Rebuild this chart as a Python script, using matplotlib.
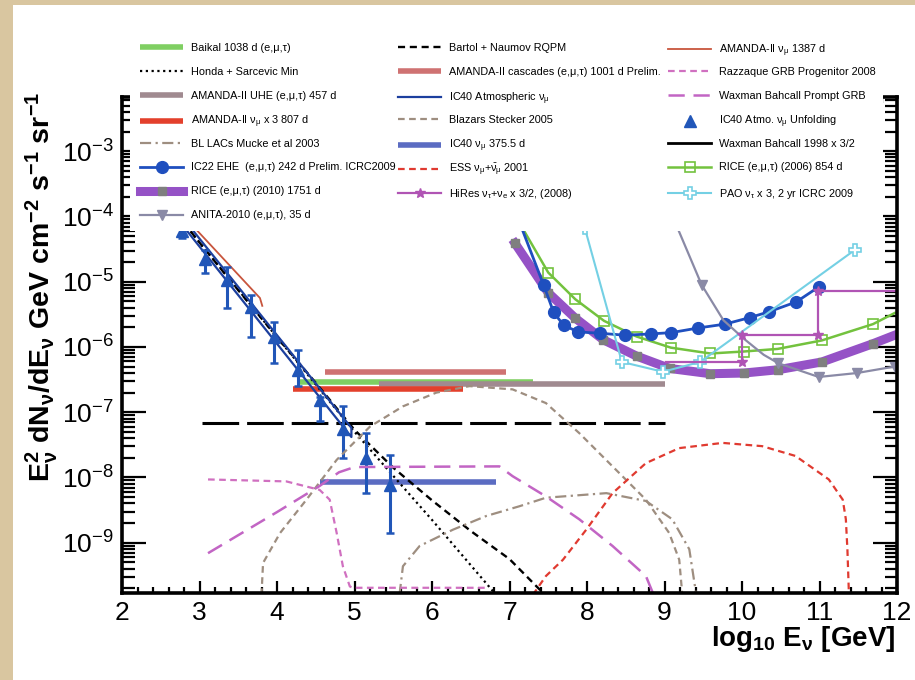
import numpy as np
import matplotlib
matplotlib.use("Agg")
import matplotlib.pyplot as plt
from matplotlib.lines import Line2D
from matplotlib.patches import Rectangle
from matplotlib.ticker import MultipleLocator, LogLocator, NullFormatter, FixedLocator

plt.rcParams['font.family'] = ['Liberation Sans', 'DejaVu Sans']
plt.rcParams['mathtext.fontset'] = 'custom'
plt.rcParams['mathtext.rm'] = 'Liberation Sans'
plt.rcParams['mathtext.it'] = 'Liberation Sans:italic'
plt.rcParams['mathtext.bf'] = 'Liberation Sans:bold'
plt.rcParams['mathtext.default'] = 'regular'

# ---------------- data (x = log10 E [GeV], y = log10 flux) ----------------
baikal_x = [4.30, 7.30]; baikal_y = [-6.54, -6.54]
amanda_casc_x = [4.62, 6.96]; amanda_casc_y = [-6.39, -6.39]
amanda_uhe_x = [5.31, 9.01]; amanda_uhe_y = [-6.57, -6.57]
amanda_x3_x = [4.21, 6.40]; amanda_x3_y = [-6.65, -6.65]
wb98_x = [3.03, 9.01]; wb98_y = [-7.16, -7.16]
ic40_numu_x = [4.55, 6.83]; ic40_numu_y = [-8.07, -8.07]

honda_x = [2.70, 3.00, 4.00, 5.00, 6.00, 6.90]
honda_y = [-3.95, -4.40, -5.85, -7.30, -8.65, -9.90]
bartol_x = [2.70, 3.00, 3.50, 4.00, 4.50, 5.00, 5.50, 6.00, 6.50, 7.00, 7.50]
bartol_y = [-3.95, -4.40, -5.13, -5.85, -6.55, -7.27, -7.85, -8.35, -8.82, -9.25, -9.85]

ic40atm_x = [2.77, 4.96, 4.96, 2.69]
ic40atm_y = [-4.00, -7.24, -7.38, -4.00]

amanda1387_x = [2.80, 3.78, 3.81]
amanda1387_y = [-4.00, -5.25, -5.37]

unf_x = [2.77, 3.07, 3.36, 3.67, 3.96, 4.27, 4.55, 4.85, 5.15, 5.46]
unf_y = [-4.23, -4.65, -4.98, -5.39, -5.84, -6.36, -6.81, -7.26, -7.70, -8.11]
unf_lo = [-4.33, -4.87, -5.40, -5.84, -6.25, -6.60, -7.14, -7.70, -8.24, -8.85]
unf_hi = [-4.18, -4.51, -4.77, -5.20, -5.61, -6.04, -6.76, -6.91, -7.32, -7.65]

bllac_x = [5.58, 5.625, 5.84, 6.27, 6.70, 7.13, 7.47, 8.25, 8.76, 9.10, 9.32, 9.41]
bllac_y = [-9.80, -9.36, -9.05, -8.80, -8.59, -8.44, -8.31, -8.24, -8.36, -8.64, -9.10, -9.80]

stecker_x = [3.80, 3.82, 4.04, 4.38, 4.77, 5.20, 5.625, 6.055, 6.485, 7.04, 7.47, 7.90, 8.33, 8.76, 9.06, 9.19, 9.23]
stecker_y = [-9.80, -9.31, -8.85, -8.34, -7.73, -7.22, -6.91, -6.70, -6.60, -6.65, -6.86, -7.32, -7.83, -8.34, -8.85, -9.26, -9.80]

ess_x = [7.30, 7.47, 7.69, 7.99, 8.33, 8.76, 9.19, 9.75, 10.26, 10.69, 11.12, 11.30, 11.34, 11.36, 11.38]
ess_y = [-9.80, -9.51, -9.26, -8.80, -8.24, -7.78, -7.55, -7.47, -7.52, -7.67, -8.03, -8.34, -8.64, -9.10, -9.80]

razz_x = [3.11, 4.12, 4.55, 4.68, 4.77, 4.85, 4.94, 4.98, 6.70]
razz_y = [-8.03, -8.06, -8.19, -8.34, -8.85, -9.36, -9.67, -9.69, -9.69]

wbgrb_x = [3.11, 4.00, 4.55, 4.80, 5.00, 6.87, 7.04, 7.47, 7.90, 8.33, 8.76, 8.85]
wbgrb_y = [-9.16, -8.53, -8.13, -7.92, -7.84, -7.83, -7.98, -8.29, -8.64, -9.05, -9.51, -9.77]

ic22_x = [7.10, 7.44, 7.57, 7.70, 7.89, 8.17, 8.49, 8.83, 9.09, 9.43, 9.78, 10.10, 10.35, 10.70, 10.99]
ic22_y = [-4.00, -5.05, -5.47, -5.67, -5.77, -5.79, -5.82, -5.80, -5.78, -5.71, -5.65, -5.55, -5.46, -5.31, -5.08]

rice10_x = [7.07, 7.50, 7.85, 8.21, 8.64, 9.07, 9.59, 10.02, 10.46, 11.03, 11.69, 11.97]
rice10_y = [-4.41, -5.17, -5.56, -5.89, -6.14, -6.33, -6.41, -6.40, -6.35, -6.23, -5.95, -5.82]

rice06_x = [7.08, 7.50, 7.85, 8.22, 8.64, 9.08, 9.59, 10.02, 10.46, 11.03, 11.69, 11.97]
rice06_y = [-4.00, -4.86, -5.27, -5.60, -5.84, -6.01, -6.10, -6.07, -6.03, -5.90, -5.65, -5.48]

pao_x = [7.97, 8.45, 8.98, 9.46, 11.46]
pao_y = [-4.17, -6.23, -6.38, -6.23, -4.51]

anita_x = [9.10, 9.18, 9.48, 9.76, 10.02, 10.28, 10.47, 10.99, 11.48, 11.97]
anita_y = [-4.00, -4.21, -5.05, -5.59, -5.87, -6.12, -6.25, -6.46, -6.40, -6.30]
anita_marks = [2, 6, 7, 8, 9]

hires_x = [9.02, 10.00, 10.00, 10.98, 10.98, 12.00]
hires_y = [-6.23, -6.23, -5.82, -5.82, -5.15, -5.15]

ytick_exponents = [-9, -8, -7, -6, -5, -4, -3]

def F(v):
    return 10.0 ** np.asarray(v, dtype=float)

# ---------------- figure ----------------
fig = plt.figure(figsize=(9.15, 6.8), dpi=100, facecolor='#d9c6a0')
fig.add_artist(Rectangle((13 / 915, 0), 1 - 13 / 915, 675 / 680, transform=fig.transFigure,
                         facecolor='white', edgecolor='none', zorder=-1))
ax = fig.add_axes([122 / 915, (680 - 593) / 680, (897 - 122) / 915, (593 - 97) / 680])
ax.set_yscale('log')

lw_bar = 4.0
h = {}
h['baikal'], = ax.plot(baikal_x, F(baikal_y), color='#7fcf62', lw=lw_bar, solid_capstyle='butt',
                       label=r'Baikal 1038 d (e,μ,τ)')
h['amanda_uhe'], = ax.plot(amanda_uhe_x, F(amanda_uhe_y), color='#a08a90', lw=lw_bar, solid_capstyle='butt',
                           label=r'AMANDA-II UHE (e,μ,τ) 457 d')
h['amanda_casc'], = ax.plot(amanda_casc_x, F(amanda_casc_y), color='#cf7272', lw=lw_bar, solid_capstyle='butt',
                            label=r'AMANDA-II cascades (e,μ,τ) 1001 d Prelim.')
h['amanda_x3'], = ax.plot(amanda_x3_x, F(amanda_x3_y), color='#e3402c', lw=lw_bar, solid_capstyle='butt',
                          label=r'AMANDA-II $\nu_\mu$ x 3 807 d')
h['ic40numu'], = ax.plot(ic40_numu_x, F(ic40_numu_y), color='#5b6cc2', lw=lw_bar, solid_capstyle='butt',
                         label=r'IC40 $\nu_\mu$ 375.5 d')
ax.plot(wb98_x, F(wb98_y), color='black', lw=2.2, ls=(0, (12, 2.6)))
h['wb98'] = Line2D([], [], color='black', lw=2.0, label=r'Waxman Bahcall 1998 x 3/2')

h['honda'], = ax.plot(honda_x, F(honda_y), color='black', lw=1.6, ls=(0, (1, 1.6)),
                      label=r'Honda + Sarcevic Min')
h['bartol'], = ax.plot(bartol_x, F(bartol_y), color='black', lw=1.7, ls=(0, (3, 2)),
                       label=r'Bartol + Naumov RQPM')
h['ic40atm'], = ax.plot(ic40atm_x, F(ic40atm_y), color='#1c3f9e', lw=1.6,
                        label=r'IC40 Atmospheric $\nu_\mu$')
h['amanda1387'], = ax.plot(amanda1387_x, F(amanda1387_y), color='#c8553d', lw=1.3,
                           label=r'AMANDA-II $\nu_\mu$ 1387 d')

uy = F(unf_y)
ax.errorbar(unf_x, uy, yerr=[uy - F(unf_lo), F(unf_hi) - uy], fmt='none', ecolor='#2156b8',
            elinewidth=2.2, capsize=3, capthick=1.8)
h['unf'], = ax.plot(unf_x, uy, ls='none', marker='^', ms=8, color='#2156b8',
                    label=r'IC40 Atmo. $\nu_\mu$ Unfolding')

h['bllac'], = ax.plot(bllac_x, F(bllac_y), color='#9e8e80', lw=1.6, ls=(0, (5, 2, 1, 2)),
                      label=r'BL LACs Mucke et al 2003')
h['stecker'], = ax.plot(stecker_x, F(stecker_y), color='#9e8e80', lw=1.6, ls=(0, (3, 2)),
                        label=r'Blazars Stecker 2005')
h['ess'], = ax.plot(ess_x, F(ess_y), color='#e03a30', lw=1.6, ls=(0, (3, 2)),
                    label=r'ESS $\nu_\mu$+$\bar{\nu}_\mu$ 2001')
h['razz'], = ax.plot(razz_x, F(razz_y), color='#d070c0', lw=1.6, ls=(0, (3, 2)),
                     label=r'Razzaque GRB Progenitor 2008')
h['wbgrb'], = ax.plot(wbgrb_x, F(wbgrb_y), color='#c265c4', lw=1.8, ls=(0, (6.5, 3.5)),
                      label=r'Waxman Bahcall Prompt GRB')

h['rice10'], = ax.plot(rice10_x, F(rice10_y), color='#9552c6', lw=6.5, marker='s', ms=6,
                       mfc='#7f7f7f', mec='#7f7f7f', markevery=list(range(11)),
                       label=r'RICE (e,μ,τ) (2010) 1751 d')
h['rice06'], = ax.plot(rice06_x, F(rice06_y), color='#73c23e', lw=1.8, marker='s', ms=7,
                       mfc='none', mec='#73c23e', mew=1.2, markevery=list(range(1, 11)),
                       label=r'RICE (e,μ,τ) (2006) 854 d')
h['ic22'], = ax.plot(ic22_x, F(ic22_y), color='#1f4fbf', lw=2.0, marker='o', ms=8.5,
                     markevery=list(range(1, 15)),
                     label=r'IC22 EHE  (e,μ,τ) 242 d Prelim. ICRC2009')
h['pao'], = ax.plot(pao_x, F(pao_y), color='#74d0e4', lw=1.5, marker='P', ms=8,
                    mfc='white', mec='#74d0e4', mew=1.2,
                    label=r'PAO $\nu_\tau$ x 3, 2 yr ICRC 2009')
h['anita'], = ax.plot(anita_x, F(anita_y), color='#8a8aa6', lw=1.6, marker='v', ms=7.5,
                      markevery=anita_marks, label=r'ANITA-2010 (e,μ,τ), 35 d')
h['hires'], = ax.plot(hires_x, F(hires_y), color='#b054b4', lw=1.6, marker='*', ms=7,
                      markevery=[1, 2, 3, 4], label=r'HiRes $\nu_\tau$+$\nu_e$ x 3/2, (2008)')

ax.set_xlim(2, 12)
ax.set_ylim(10 ** -9.77, 10 ** -2.17)
ax.xaxis.set_major_locator(MultipleLocator(1))
ax.xaxis.set_minor_locator(MultipleLocator(0.2))
ax.yaxis.set_major_locator(FixedLocator(F(ytick_exponents)))
ax.yaxis.set_minor_locator(LogLocator(base=10, subs=np.arange(2, 10), numticks=20))
ax.yaxis.set_minor_formatter(NullFormatter())
ax.tick_params(which='both', direction='in', top=True, right=True, width=1.6, labelsize=19)
ax.tick_params(axis='x', which='major', length=9, pad=6)
ax.tick_params(axis='x', which='minor', length=4.5)
ax.tick_params(axis='y', which='major', length=17, pad=6)
ax.tick_params(axis='y', which='minor', length=9)
for s in ax.spines.values():
    s.set_linewidth(2.6)

fig.text(42 / 915, 1 - 287 / 680,
         r'$E_{\nu}^{2}$ dN$_{\nu}$/dE$_{\nu}$ GeV cm$^{-2}$ s$^{-1}$ sr$^{-1}$',
         rotation=90, ha='center', va='center', fontsize=20.5, fontweight='bold')
fig.text(895 / 915, 1 - 646 / 680, r'log$_{10}$ E$_{\nu}$ [GeV]', ha='right', va='baseline',
         fontsize=20, fontweight='bold')

# legend box (covers the top of the frame, like the original)
fig.add_artist(Rectangle((130 / 915, 1 - 231 / 680), (883 - 130) / 915, (231 - 28) / 680,
                         transform=fig.transFigure, facecolor='white', edgecolor='none', zorder=1))

cols = [
    ['baikal', 'honda', 'amanda_uhe', 'amanda_x3', 'bllac', 'ic22', 'rice10', 'anita'],
    ['bartol', 'amanda_casc', 'ic40atm', 'stecker', 'ic40numu', 'ess', 'hires'],
    ['amanda1387', 'razz', 'wbgrb', 'unf', 'wb98', 'rice06', 'pao'],
]
col_x = [140, 398, 668]
for cx, keys in zip(col_x, cols):
    for i, k in enumerate(keys):
        cy = 48 + 23.9 * i
        if '$' in h[k].get_label():
            cy += 2.5
        fig.legend(handles=[h[k]], loc='center left',
                   bbox_to_anchor=(cx / 915, 1 - cy / 680), frameon=False, fontsize=7.8,
                   handlelength=4.0, handletextpad=0.7, borderpad=0, borderaxespad=0)

fig.savefig('out.png', dpi=100, facecolor=fig.get_facecolor())
